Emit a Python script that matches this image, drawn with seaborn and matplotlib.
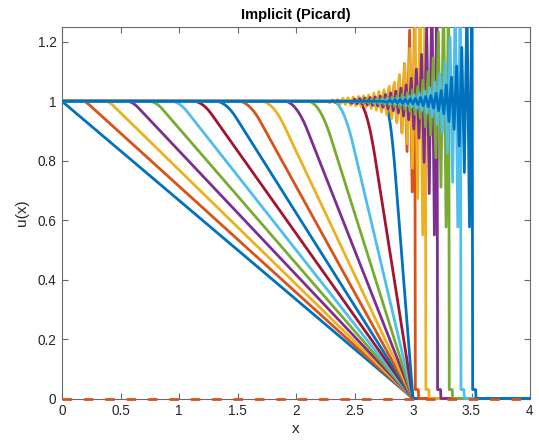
import numpy as np
import pandas as pd
import matplotlib
matplotlib.use("Agg")
import matplotlib.pyplot as plt
from matplotlib.patches import Rectangle
import seaborn as sns

# ---------------- data ----------------
# pre-shock profiles: u=1 up to the knee, straight down to (3,0), then 0
knee_x = [0.0, 0.2, 0.4, 0.6, 0.8, 1.0, 1.2, 1.4, 1.6, 1.8, 2.0, 2.2, 2.4, 2.6, 2.8]
knee_round = [0.0, 0.03, 0.04, 0.05, 0.06, 0.07, 0.08, 0.09, 0.095, 0.1, 0.1, 0.1, 0.09, 0.075, 0.05]
converge_x = 3.0

# post-shock profiles: u≈1 (with ripples) up to the front, then a drop to 0
front_x = [3.02, 3.11, 3.21, 3.31, 3.41, 3.51]
front_color_idx = [1, 2, 3, 4, 5, 0]
ripple_d = [0.75, 0.5, 0.35, 0.25, 0.15, 0.08, 0.03, 0.0]   # distance before front
amp_orange = [0.003, 0.008, 0.018, 0.035, 0.07, 0.14, 0.30, 0.35]
amp_yellow = [0.008, 0.02, 0.04, 0.07, 0.15, 0.30, 0.45, 0.45]
amp_purple = [0.006, 0.016, 0.035, 0.06, 0.13, 0.28, 0.45, 0.45]
amp_green = [0.005, 0.013, 0.03, 0.055, 0.12, 0.26, 0.42, 0.45]
amp_lightblue = [0.004, 0.011, 0.027, 0.05, 0.11, 0.24, 0.42, 0.45]
amp_blue = [0.003, 0.009, 0.02, 0.04, 0.10, 0.20, 0.42, 0.45]
ripple_amps = [amp_orange, amp_yellow, amp_purple, amp_green, amp_lightblue, amp_blue]
ripple_half_wave = 0.022
foot_height = 0.03
foot_width = 0.025

x_range = [0.0, 4.0]
zero_u = [0.0, 0.0]

matlab_colors = ['#0072BD', '#D95319', '#EDB120', '#7E2F8E',
                 '#77AC30', '#4DBEEE', '#A2142F']

title = "Implicit (Picard)"
xlabel = "x"
ylabel = "u(x)"
xticks = [0, 0.5, 1, 1.5, 2, 2.5, 3, 3.5, 4]
yticks = [0, 0.2, 0.4, 0.6, 0.8, 1.0, 1.2]

# ---------------- build the profiles ----------------
rows = []
palette = {}
order = []


def add(name, xs, us, color):
    palette[name] = color
    order.append(name)
    for a, b in zip(xs, us):
        rows.append((name, a, b))


n = 0
for i, (k, r) in enumerate(zip(knee_x, knee_round)):
    s = 1.0 / (converge_x - k)
    xs = [x_range[0]]
    us = [1.0]
    if r > 0:
        xf = np.linspace(k - r, k + r, 15)
        uf = 1 - s * (xf - k + r) ** 2 / (4 * r)
        xs += list(xf)
        us += list(uf)
    xs += [converge_x, x_range[1]]
    us += [0.0, 0.0]
    add(f"L{n:02d}", xs, us, matlab_colors[i % 7])
    n += 1

for f, ci, amps in zip(front_x, front_color_idx, ripple_amps):
    d = np.arange(0.005, ripple_d[0], ripple_half_wave)
    a = np.interp(d, ripple_d[::-1], amps[::-1])
    sign = np.where(np.arange(len(d)) % 2 == 0, 1.0, -1.0)
    xr = (f - d)[::-1]
    ur = (1 + sign * a)[::-1]
    xs = [x_range[0], f - ripple_d[0] - 0.01] + list(xr) + [f, f + foot_width, f + foot_width + 0.004, x_range[1]]
    us = [1.0, 1.0] + list(ur) + [foot_height, foot_height, 0.0, 0.0]
    add(f"L{n:02d}", xs, us, matlab_colors[ci])
    n += 1

df = pd.DataFrame(rows, columns=["line", "x", "u"])

# ---------------- plot ----------------
sns.set_style("white")
plt.rcParams['font.family'] = ['Liberation Sans', 'DejaVu Sans']

fig = plt.figure(figsize=(5.39, 4.46), dpi=100)
ax = fig.add_axes([62 / 539, 1 - 398.5 / 446, (530 - 62) / 539, (398.5 - 27) / 446])

sns.lineplot(data=df, x="x", y="u", hue="line", hue_order=order, palette=palette,
             estimator=None, sort=False, legend=False, linewidth=2.0, ax=ax)

sns.lineplot(x=x_range, y=zero_u, color=matlab_colors[1], linewidth=2.0,
             estimator=None, sort=False, legend=False, ax=ax)
zl = ax.lines[-1]
zl.set_linestyle((0, (3.4, 4.3)))
zl.set_zorder(5)

# clip at the top/sides, but let the u=0 lines show their full width at the bottom
clip = Rectangle((0, -0.03), 1, 1.03, transform=ax.transAxes, facecolor='none', edgecolor='none')
ax.add_patch(clip)
for ln in ax.lines:
    ln.set_clip_path(clip)

ax.set_xlim(0, 4)
ax.set_ylim(0, 1.25)
ax.set_xticks(xticks)
ax.set_xticklabels([f"{v:g}" for v in xticks])
ax.set_yticks(yticks)
ax.set_yticklabels([f"{v:g}" for v in yticks])

txt = '#262626'
for sp in ax.spines.values():
    sp.set_visible(True)
    sp.set_color('#6a6a6a')
    sp.set_linewidth(0.8)
    sp.set_zorder(1)
ax.tick_params(direction='in', length=4, width=0.8, color='#6a6a6a',
               top=True, right=True, bottom=True, left=True,
               labelsize=9.8, labelcolor=txt, pad=4)
ax.set_xlabel(xlabel, fontsize=11, color=txt, labelpad=3)
ax.set_ylabel(ylabel, fontsize=11, color=txt, labelpad=6)
ax.set_title(title, fontsize=10.5, fontweight='bold', color='#000000', pad=6)

fig.savefig("out.png", dpi=100, facecolor='white')
